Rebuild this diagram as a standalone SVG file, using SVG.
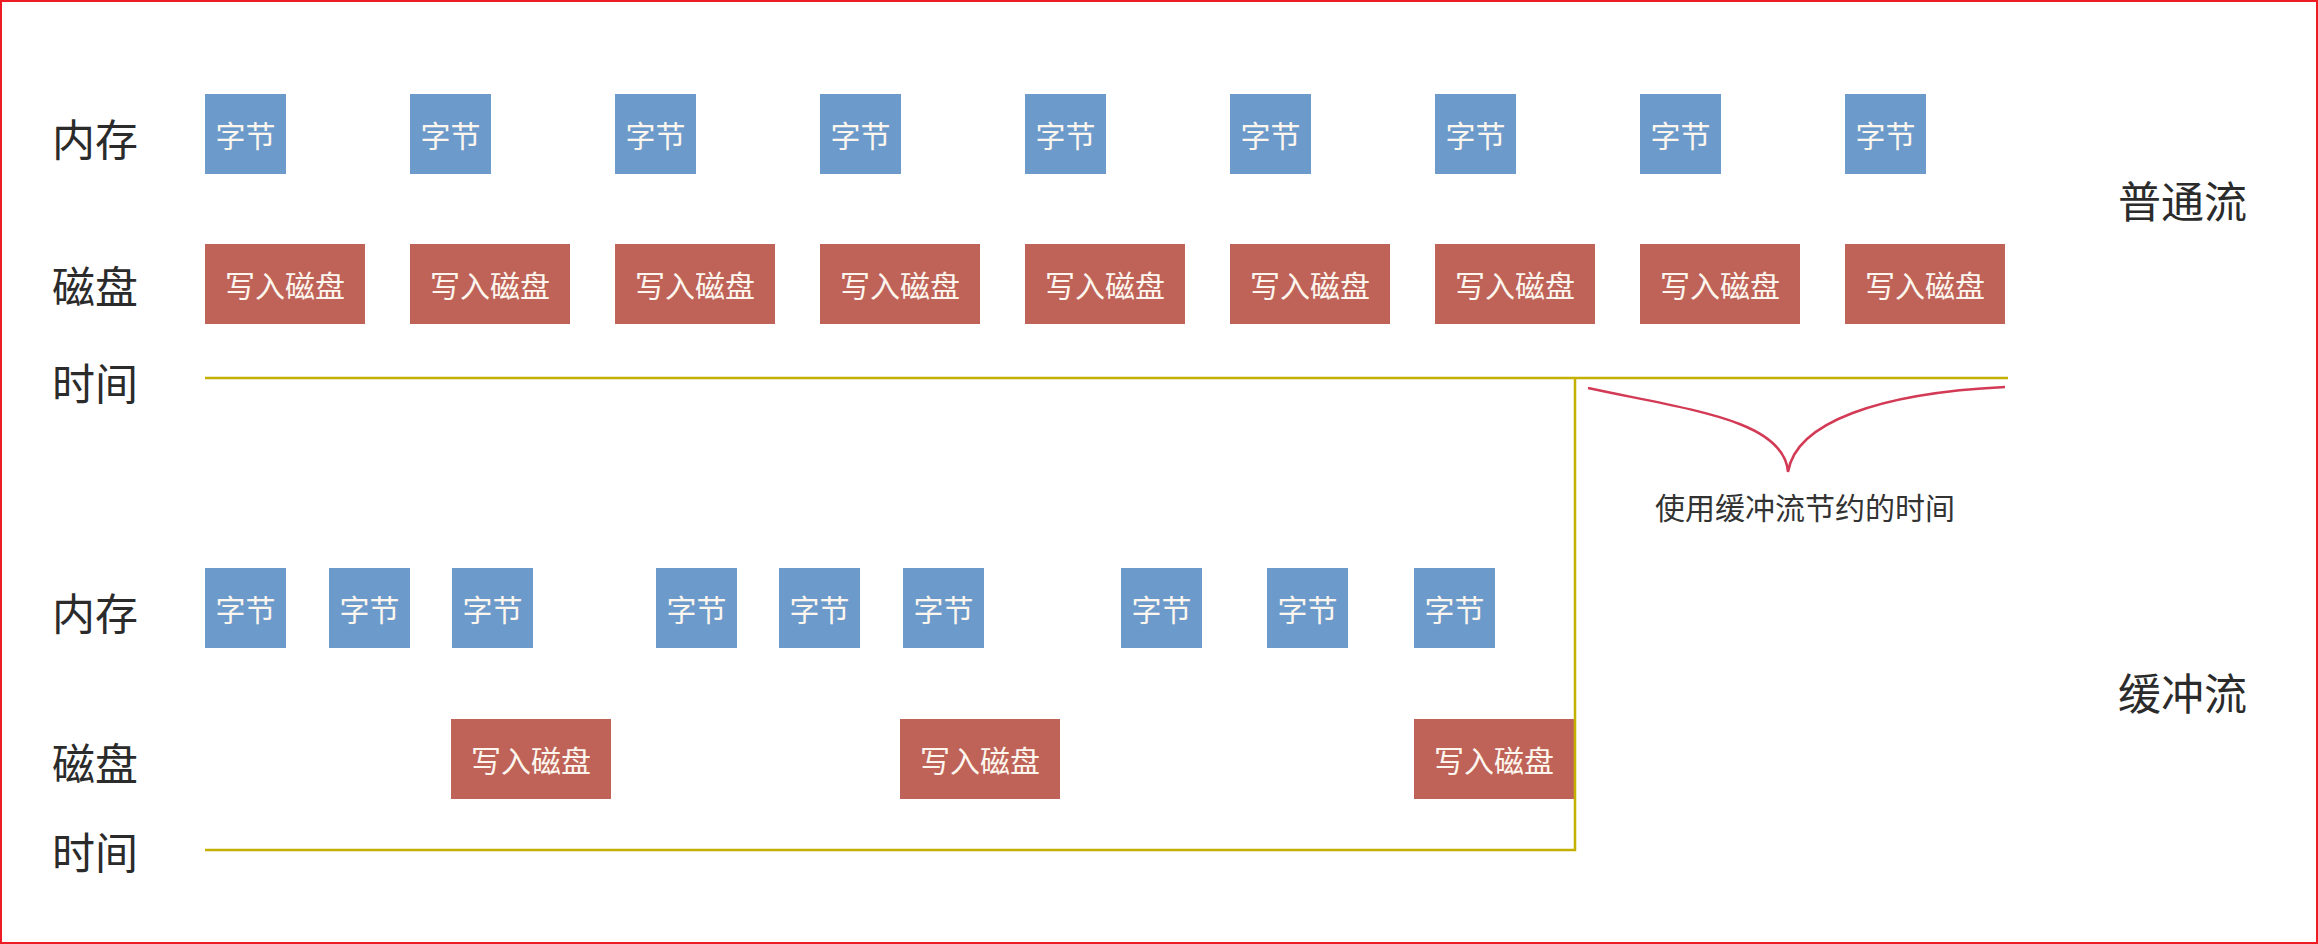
<svg xmlns="http://www.w3.org/2000/svg" width="2318" height="944" viewBox="0 0 2318 944">
<style>
.lbl{font-family:"Noto Sans CJK SC","Noto Sans",sans-serif;font-size:43px;fill:#2b2b2b;dominant-baseline:central}
.byte{fill:#6b9acb}
.disk{fill:#bf6359}
.bt{font-family:"Noto Sans CJK SC","Noto Sans",sans-serif;font-size:30px;fill:#fdf6ee;text-anchor:middle;dominant-baseline:central}
.axis{stroke:#c4b000;stroke-width:2.5;fill:none}
.note{font-family:"Noto Sans CJK SC","Noto Sans",sans-serif;font-size:30px;fill:#333;text-anchor:middle;dominant-baseline:central}
</style>
<defs>
<g id="b"><rect x="0" y="0" width="81" height="80"/><text class="bt" x="40.5" y="40">字节</text></g>
<g id="d"><rect x="0" y="0" width="160" height="80"/><text class="bt" x="80" y="40">写入磁盘</text></g>
</defs>
<rect x="1" y="1" width="2316" height="942" fill="#fff" stroke="#ed1c24" stroke-width="2"/>

<g id="labels">
<text class="lbl" x="52" y="137">内存</text>
<text class="lbl" x="52" y="284">磁盘</text>
<text class="lbl" x="52" y="381">时间</text>
<text class="lbl" x="52" y="611">内存</text>
<text class="lbl" x="52" y="761">磁盘</text>
<text class="lbl" x="52" y="850">时间</text>
<text class="lbl" x="2118" y="199">普通流</text>
<text class="lbl" x="2118" y="691">缓冲流</text>
</g>

<g id="top-bytes" class="byte">
<use href="#b" x="205" y="94"/>
<use href="#b" x="410" y="94"/>
<use href="#b" x="615" y="94"/>
<use href="#b" x="820" y="94"/>
<use href="#b" x="1025" y="94"/>
<use href="#b" x="1230" y="94"/>
<use href="#b" x="1435" y="94"/>
<use href="#b" x="1640" y="94"/>
<use href="#b" x="1845" y="94"/>
</g>
<g id="top-disk" class="disk">
<use href="#d" x="205" y="244"/>
<use href="#d" x="410" y="244"/>
<use href="#d" x="615" y="244"/>
<use href="#d" x="820" y="244"/>
<use href="#d" x="1025" y="244"/>
<use href="#d" x="1230" y="244"/>
<use href="#d" x="1435" y="244"/>
<use href="#d" x="1640" y="244"/>
<use href="#d" x="1845" y="244"/>
</g>

<g id="bottom-bytes" class="byte">
<use href="#b" x="205" y="568"/>
<use href="#b" x="329" y="568"/>
<use href="#b" x="452" y="568"/>
<use href="#b" x="656" y="568"/>
<use href="#b" x="779" y="568"/>
<use href="#b" x="903" y="568"/>
<use href="#b" x="1121" y="568"/>
<use href="#b" x="1267" y="568"/>
<use href="#b" x="1414" y="568"/>
</g>
<g id="bottom-disk" class="disk">
<use href="#d" x="451" y="719"/>
<use href="#d" x="900" y="719"/>
<use href="#d" x="1414" y="719"/>
</g>

<g id="connectors">
<path class="axis" d="M205,378 H2008"/>
<path class="axis" d="M205,850 H1575 V378"/>
<path d="M1588,388 C1690,410 1784,420 1788,472 C1796,422 1880,393 2005,387" fill="none" stroke="#d23a55" stroke-width="2.5"/>
</g>
<g id="note">
<text class="note" x="1805" y="506">使用缓冲流节约的时间</text>
</g>
</svg>
